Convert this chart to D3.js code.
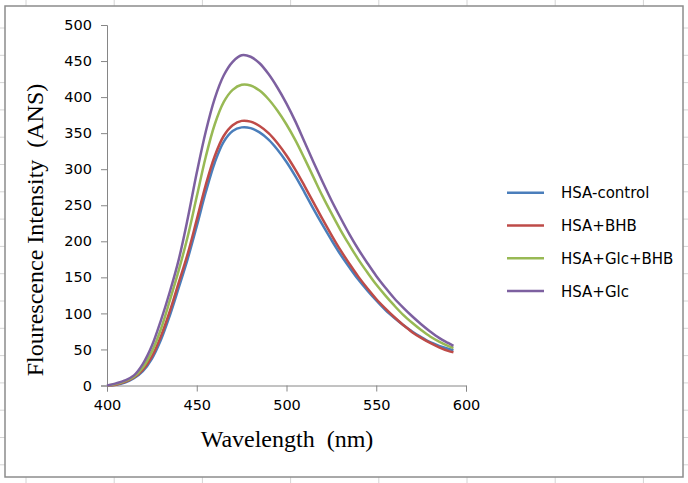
<!doctype html>
<html lang="en">
<head>
<meta charset="utf-8">
<style>
  body, html { margin: 0; padding: 0; background: white; overflow: hidden; }
  svg { position: absolute; top: 0; left: 0; }
</style>
</head>
<body>
<div id="chart"></div>
<script src="https://cdn.jsdelivr.net/npm/d3@7"></script>
<script>

const wavelengths = [400,405,410,415,420,425,430,435,440,445,450,455,460,465,470,475,480,485,490,495,500,505,510,515,520,525,530,535,540,545,550,555,560,565,570,575,580,585,590,593];

const hsaControl = [0,1,4,10,20,37,63,97,136,176,221,268,309,338,353,358,357,351,341,327,310,290,268,245,223,202,182,164,147,132,118,105,94,84,75,67,60,55,51,49];
const hsaBhb     = [0,1,5,11,22,40,68,103,143,183,230,278,318,346,361,367,366,360,350,336,319,299,277,254,231,209,188,169,151,135,120,107,95,84,74,66,59,53,48,46];
const hsaGlcBhb  = [0,2,6,12,25,47,78,118,160,207,262,317,362,393,410,417,416,409,397,381,362,340,315,289,263,239,216,195,175,157,140,125,111,98,87,77,68,61,55,52];
const hsaGlc     = [0,3,7,14,30,55,90,130,175,232,295,352,398,430,449,458,456,447,432,413,391,366,338,310,283,257,233,210,189,170,152,136,121,108,96,85,75,66,59,55];

const seriesNames  = ["HSA-control", "HSA+BHB", "HSA+Glc+BHB", "HSA+Glc"];
const seriesValues = [hsaControl, hsaBhb, hsaGlcBhb, hsaGlc];
const colors = ["#4a7ebb", "#be4b48", "#98b954", "#7d60a0"];

const xTicks = [400, 450, 500, 550, 600];
const yTicks = [0, 50, 100, 150, 200, 250, 300, 350, 400, 450, 500];

const W = 688, H = 483;
const svg = d3.select("#chart").append("svg").attr("width", W).attr("height", H);

// spreadsheet cell lines peeking out round the chart frame
const sheetX = d3.range(26, W, 88.2);
const sheetY = d3.range(28, H, 27.3);
const sheet = svg.append("g").attr("stroke", "#d4d4d4").attr("stroke-width", 1);
sheetX.forEach(x => {
  sheet.append("line").attr("x1", x).attr("x2", x).attr("y1", 0).attr("y2", 6);
  sheet.append("line").attr("x1", x).attr("x2", x).attr("y1", 477).attr("y2", H);
});
sheetY.forEach(y => {
  sheet.append("line").attr("y1", y).attr("y2", y).attr("x1", 0).attr("x2", 5);
  sheet.append("line").attr("y1", y).attr("y2", y).attr("x1", 683).attr("x2", W);
});

svg.append("rect")
  .attr("x", 5).attr("y", 6).attr("width", 678).attr("height", 471)
  .attr("fill", "white").attr("stroke", "#8c8c8c").attr("stroke-width", 1.5);

const x = d3.scaleLinear().domain([400, 600]).range([107, 466]);
const y = d3.scaleLinear().domain([0, 500]).range([385.5, 25]);

const xAxis = svg.append("g")
  .attr("transform", `translate(0,${y(0)})`)
  .call(d3.axisBottom(x).tickValues(xTicks).tickSizeOuter(0).tickSize(6).tickPadding(8));

const yAxis = svg.append("g")
  .attr("transform", `translate(${x(400)},0)`)
  .call(d3.axisLeft(y).tickValues(yTicks).tickSizeOuter(0).tickSize(6).tickPadding(9));

[xAxis, yAxis].forEach(g => {
  g.select(".domain").attr("stroke", "#868686");
  g.selectAll(".tick line").attr("stroke", "#868686");
  g.selectAll(".tick text")
    .attr("fill", "#000")
    .style("font-family", "'DejaVu Sans', sans-serif")
    .style("font-size", "14.5px");
});

const line = d3.line()
  .x((d, i) => x(wavelengths[i]))
  .y(d => y(d))
  .curve(d3.curveCatmullRom.alpha(0.5));

seriesValues.forEach((vals, i) => {
  svg.append("path")
    .datum(vals)
    .attr("fill", "none")
    .attr("stroke", colors[i])
    .attr("stroke-width", 2.5)
    .attr("d", line);
});

// axis titles
svg.append("text")
  .attr("x", 287).attr("y", 447)
  .attr("text-anchor", "middle")
  .style("font-family", "'Liberation Serif', 'Times New Roman', serif")
  .style("font-size", "24px")
  .attr("xml:space", "preserve")
  .text("Wavelength  (nm)");

svg.append("text")
  .attr("transform", "translate(43,230) rotate(-90)")
  .attr("text-anchor", "middle")
  .style("font-family", "'Liberation Serif', 'Times New Roman', serif")
  .style("font-size", "24px")
  .attr("xml:space", "preserve")
  .text("Flourescence Intensity  (ANS)");

// legend
const legend = svg.append("g");
seriesNames.forEach((name, i) => {
  const ly = 192.7 + i * 32.8;
  legend.append("line")
    .attr("x1", 507).attr("x2", 544).attr("y1", ly).attr("y2", ly)
    .attr("stroke", colors[i]).attr("stroke-width", 2.5);
  legend.append("text")
    .attr("x", 561).attr("y", ly + 5.5)
    .style("font-family", "'DejaVu Sans', sans-serif")
    .style("font-size", "15px")
    .text(name);
});

</script>
</body>
</html>
